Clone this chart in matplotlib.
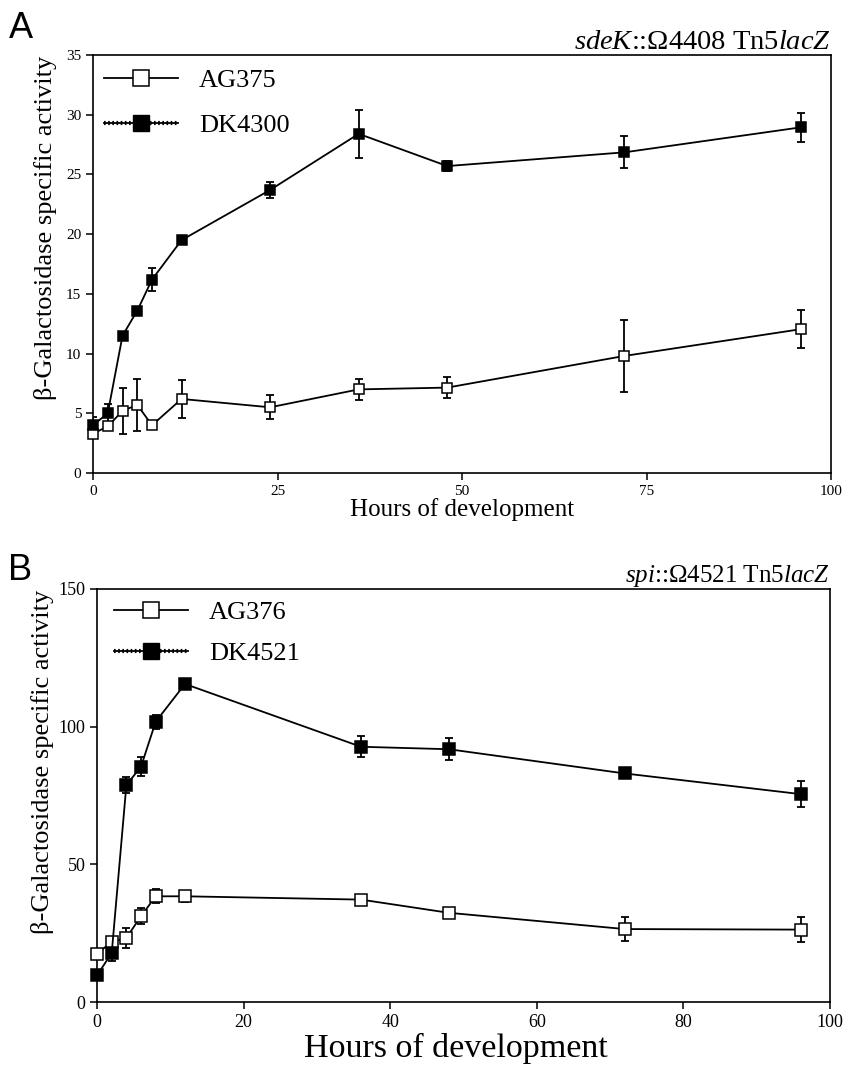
import matplotlib
matplotlib.use("Agg")
import matplotlib.pyplot as plt
from matplotlib.lines import Line2D

plt.rcParams["font.family"] = ["Liberation Serif", "DejaVu Serif"]
plt.rcParams["mathtext.fontset"] = "custom"
plt.rcParams["mathtext.rm"] = "Liberation Serif"
plt.rcParams["mathtext.it"] = "Liberation Serif:italic"

# panel A: sdeK
hours_a = [0, 2, 4, 6, 8, 12, 24, 36, 48, 72, 96]
ag375 = [3.3, 3.9, 5.2, 5.7, 4.0, 6.2, 5.5, 7.0, 7.15, 9.8, 12.05]
ag375_err = [0.3, 0.3, 1.9, 2.2, 0.2, 1.6, 1.0, 0.9, 0.9, 3.0, 1.6]
dk4300 = [4.0, 5.0, 11.5, 13.6, 16.2, 19.5, 23.7, 28.4, 25.7, 26.85, 28.95]
dk4300_err = [0.7, 0.8, 0.3, 0.3, 1.0, 0.3, 0.7, 2.0, 0.45, 1.35, 1.2]

# panel B: spi
hours_b = [0, 2, 4, 6, 8, 12, 36, 48, 72, 96]
ag376 = [17.6, 21.8, 23.3, 31.2, 38.4, 38.4, 37.2, 32.4, 26.5, 26.3]
ag376_err = [1.0, 1.5, 3.5, 3.0, 2.5, 2.0, 1.5, 1.5, 4.2, 4.5]
dk4521 = [9.7, 17.8, 78.8, 85.5, 101.8, 115.5, 92.7, 91.8, 83.0, 75.5]
dk4521_err = [1.5, 3.0, 3.0, 3.5, 2.5, 1.5, 3.9, 4.0, 1.5, 4.7]

fig = plt.figure(figsize=(8.44, 10.66), dpi=100)
axA = fig.add_axes([0.1102, 0.5563, 0.8744, 0.3921])
axB = fig.add_axes([0.1150, 0.0600, 0.8685, 0.3875])


def draw(ax, x, y, err, filled, ms):
    ax.errorbar(x, y, yerr=err, fmt="none", ecolor="black", elinewidth=1.3,
                capsize=3.2, capthick=1.3, zorder=2)
    ax.plot(x, y, "-", color="black", lw=1.3, marker="s", ms=ms,
            mfc="black" if filled else "white", mec="black", mew=1.1,
            zorder=3, clip_on=False)


def style(ax, tick_fs):
    for s in ax.spines.values():
        s.set_linewidth(1.2)
    ax.tick_params(direction="out", length=5, width=1.1, labelsize=tick_fs,
                   top=False, right=False)


def make_legend(ax, names, fs, ms, spacing, anchor):
    h1 = Line2D([], [], color="black", lw=1.3, marker="s", ms=ms,
                mfc="white", mec="black", mew=1.1)
    h2a = Line2D([], [], color="black", lw=1.3)
    h2b = Line2D([], [], color="black", lw=3.0, ls=(0, (0.4, 0.6)),
                 marker="s", ms=ms, mfc="black", mec="black")
    ax.legend([h1, (h2a, h2b)], names, loc="upper left", frameon=False,
              bbox_to_anchor=anchor, fontsize=fs, handlelength=2.8,
              handletextpad=0.8, labelspacing=spacing, borderaxespad=0,
              borderpad=0.2)


# ---- A
draw(axA, hours_a, ag375, ag375_err, False, 6.5)
draw(axA, hours_a, dk4300, dk4300_err, True, 6.5)
axA.set_xlim(0, 100)
axA.set_ylim(0, 35)
axA.set_xticks([0, 25, 50, 75, 100])
axA.set_yticks(range(0, 36, 5))
style(axA, 11)
axA.set_xlabel("Hours of development", fontsize=18, labelpad=0)
axA.set_ylabel("β-Galactosidase specific activity", fontsize=19)
axA.yaxis.set_label_coords(-0.049, 0.586)
axA.set_title(r"$sdeK$::Ω4408 Tn$\mathit{5lacZ}$", loc="right", fontsize=20.5, pad=3)
make_legend(axA, ["AG375", "DK4300"], 19, 11, 0.82, (0.008, 0.98))

# ---- B
draw(axB, hours_b, ag376, ag376_err, False, 8.5)
draw(axB, hours_b, dk4521, dk4521_err, True, 8.5)
axB.set_xlim(0, 100)
axB.set_ylim(0, 150)
axB.set_xticks(range(0, 101, 20))
axB.set_yticks([0, 50, 100, 150])
style(axB, 13)
axB.set_xlabel("Hours of development", fontsize=24.5)
axB.xaxis.set_label_coords(0.49, -0.074)
axB.set_ylabel("β-Galactosidase specific activity", fontsize=19)
axB.yaxis.set_label_coords(-0.059, 0.581)
axB.set_title(r"$spi$::Ω4521 Tn$\mathit{5lacZ}$", loc="right", fontsize=18, pad=3)
make_legend(axB, ["AG376", "DK4521"], 19, 11, 0.66, (0.016, 0.985))

fig.text(0.010, 0.957, "A", fontsize=26, family="Liberation Sans", va="bottom")
fig.text(0.010, 0.448, "B", fontsize=26, family="Liberation Sans", va="bottom")

fig.savefig("out.png", dpi=100)
